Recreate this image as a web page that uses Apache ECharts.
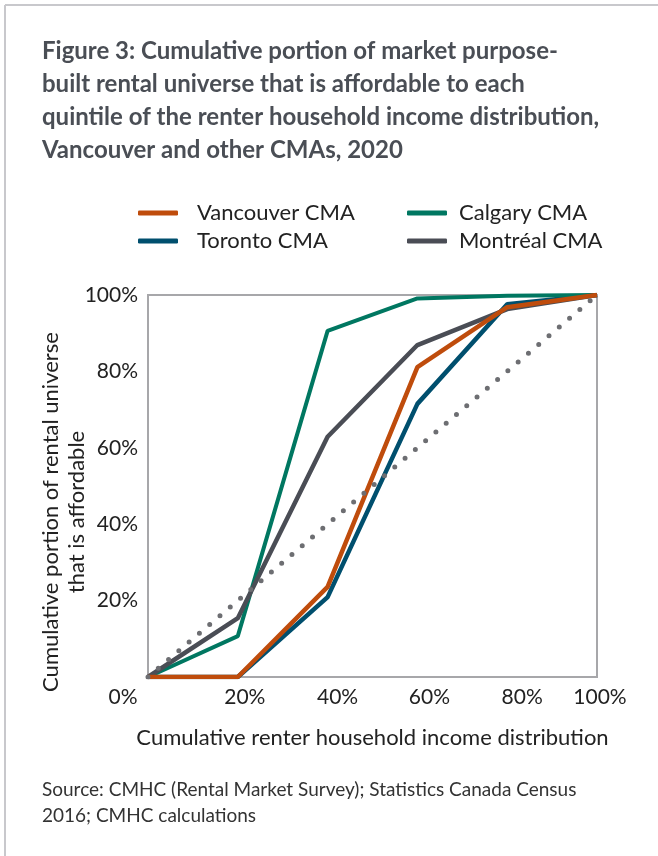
<!DOCTYPE html>
<html>
<head>
<meta charset="utf-8">
<script src="https://cdn.jsdelivr.net/npm/echarts@6/dist/echarts.min.js"></script>
<style>
  html, body { margin: 0; padding: 0; background: #fff; }
  #chart { width: 658px; height: 856px; }
</style>
</head>
<body>
<div id="chart"></div>
<script>
// cumulative renter household income distribution (x, %)
const incomeShare = [0, 20, 40, 60, 80, 100];
// cumulative share of rental universe that is affordable (y, %)
const vancouver = [0, 0, 23.6, 81.1, 96.8, 100];
const toronto = [0, 0, 20.9, 71.5, 97.6, 100];
const calgary = [0, 10.7, 90.6, 99.1, 99.8, 100];
const montreal = [0, 15.4, 62.9, 86.9, 96.3, 100];
const equality = [0, 20, 40, 60, 80, 100];

const xTicks = [0, 20, 40, 60, 80, 100];
const yTicks = [20, 40, 60, 80, 100];

const font = 'Lato, "DejaVu Sans", sans-serif';

function pairs(ys) {
    return incomeShare.map((x, i) => [x, ys[i]]);
}

const chart = echarts.init(document.getElementById('chart'));

// label nudges so the x labels sit where the original put them
const xShift = { 0: -25, 20: 7, 40: 10, 60: 12, 80: 15, 100: 3 };
const xRich = {};
xTicks.forEach(v => {
    const d = xShift[v];
    xRich['p' + v] = {
        fontFamily: font, fontSize: 21, color: '#222',
        padding: d >= 0 ? [0, 0, 0, 2 * d] : [0, -2 * d, 0, 0]
    };
});

const legendText = { fontFamily: font, fontSize: 22, color: '#222' };

const option = {
    backgroundColor: '#fff',
    animation: false,
    graphic: [
        { type: 'line', shape: { x1: 5, y1: 5, x2: 658, y2: 5 }, style: { stroke: '#c8c8cc', lineWidth: 2 } },
        { type: 'line', shape: { x1: 5, y1: 5, x2: 5, y2: 856 }, style: { stroke: '#c8c8cc', lineWidth: 2 } },
        {
            type: 'text', left: 42, top: 35,
            style: {
                text: 'Figure 3: Cumulative portion of market purpose-\nbuilt rental universe that is affordable to each\nquintile of the renter household income distribution,\nVancouver and other CMAs, 2020',
                font: 'bold 24px ' + font, fill: '#4a4e55', lineHeight: 33
            }
        },
        {
            type: 'text', x: 64, y: 512, rotation: Math.PI / 2,
            style: {
                text: 'Cumulative portion of rental universe\nthat is affordable',
                font: '22px ' + font, fill: '#222', lineHeight: 26,
                align: 'center', verticalAlign: 'middle'
            }
        },
        {
            type: 'text', left: 42, top: 777,
            style: {
                text: 'Source: CMHC (Rental Market Survey); Statistics Canada Census\n2016; CMHC calculations',
                font: '19px ' + font, fill: '#333', lineHeight: 26
            }
        }
    ],
    legend: [
        {
            data: ['Vancouver CMA', 'Toronto CMA'],
            orient: 'vertical', left: 133, top: 197, itemGap: 6,
            icon: 'roundRect', itemWidth: 40, itemHeight: 5,
            textStyle: Object.assign({ padding: [0, 0, 0, 14] }, legendText)
        },
        {
            data: ['Calgary CMA', 'Montréal CMA'],
            orient: 'vertical', left: 402, top: 197, itemGap: 6,
            icon: 'roundRect', itemWidth: 40, itemHeight: 5,
            textStyle: Object.assign({ padding: [0, 0, 0, 7] }, legendText)
        }
    ],
    grid: {
        left: 148, right: 61, top: 295, bottom: 179,
        show: true, borderColor: '#a7a7aa', borderWidth: 2, backgroundColor: 'transparent'
    },
    xAxis: {
        type: 'value', min: 0, max: 100, interval: 20,
        name: 'Cumulative renter household income distribution',
        nameLocation: 'middle', nameGap: 50,
        nameTextStyle: { fontFamily: font, fontSize: 22, color: '#222' },
        axisLine: { show: false }, axisTick: { show: false }, splitLine: { show: false },
        axisLabel: {
            margin: 10,
            formatter: v => '{p' + v + '|' + v + '%}',
            rich: xRich
        }
    },
    yAxis: {
        type: 'value', min: 0, max: 100, interval: 20,
        axisLine: { show: false }, axisTick: { show: false }, splitLine: { show: false },
        axisLabel: {
            margin: 10, fontFamily: font, fontSize: 21, color: '#222',
            formatter: v => (yTicks.includes(v) ? v + '%' : '')
        }
    },
    series: [
        {
            name: 'Toronto CMA', type: 'line', data: pairs(toronto), showSymbol: false,
            color: '#004f6e', lineStyle: { width: 4.5, color: '#004f6e' }, z: 2
        },
        {
            name: 'Calgary CMA', type: 'line', data: pairs(calgary), showSymbol: false,
            color: '#007761', lineStyle: { width: 4, color: '#007761' }, z: 3
        },
        {
            name: 'Montréal CMA', type: 'line', data: pairs(montreal), showSymbol: false,
            color: '#4a4d55', lineStyle: { width: 4.5, color: '#4a4d55' }, z: 4
        },
        {
            name: 'Vancouver CMA', type: 'line', data: pairs(vancouver), showSymbol: false,
            color: '#bf4c0c', lineStyle: { width: 4.5, color: '#bf4c0c' }, z: 5
        },
        {
            name: 'Equality', type: 'line', data: pairs(equality), showSymbol: false,
            lineStyle: { width: 5, color: '#6d6e72', type: [0, 13.5], cap: 'round' }, z: 6
        }
    ]
};

chart.setOption(option);
</script>
</body>
</html>
